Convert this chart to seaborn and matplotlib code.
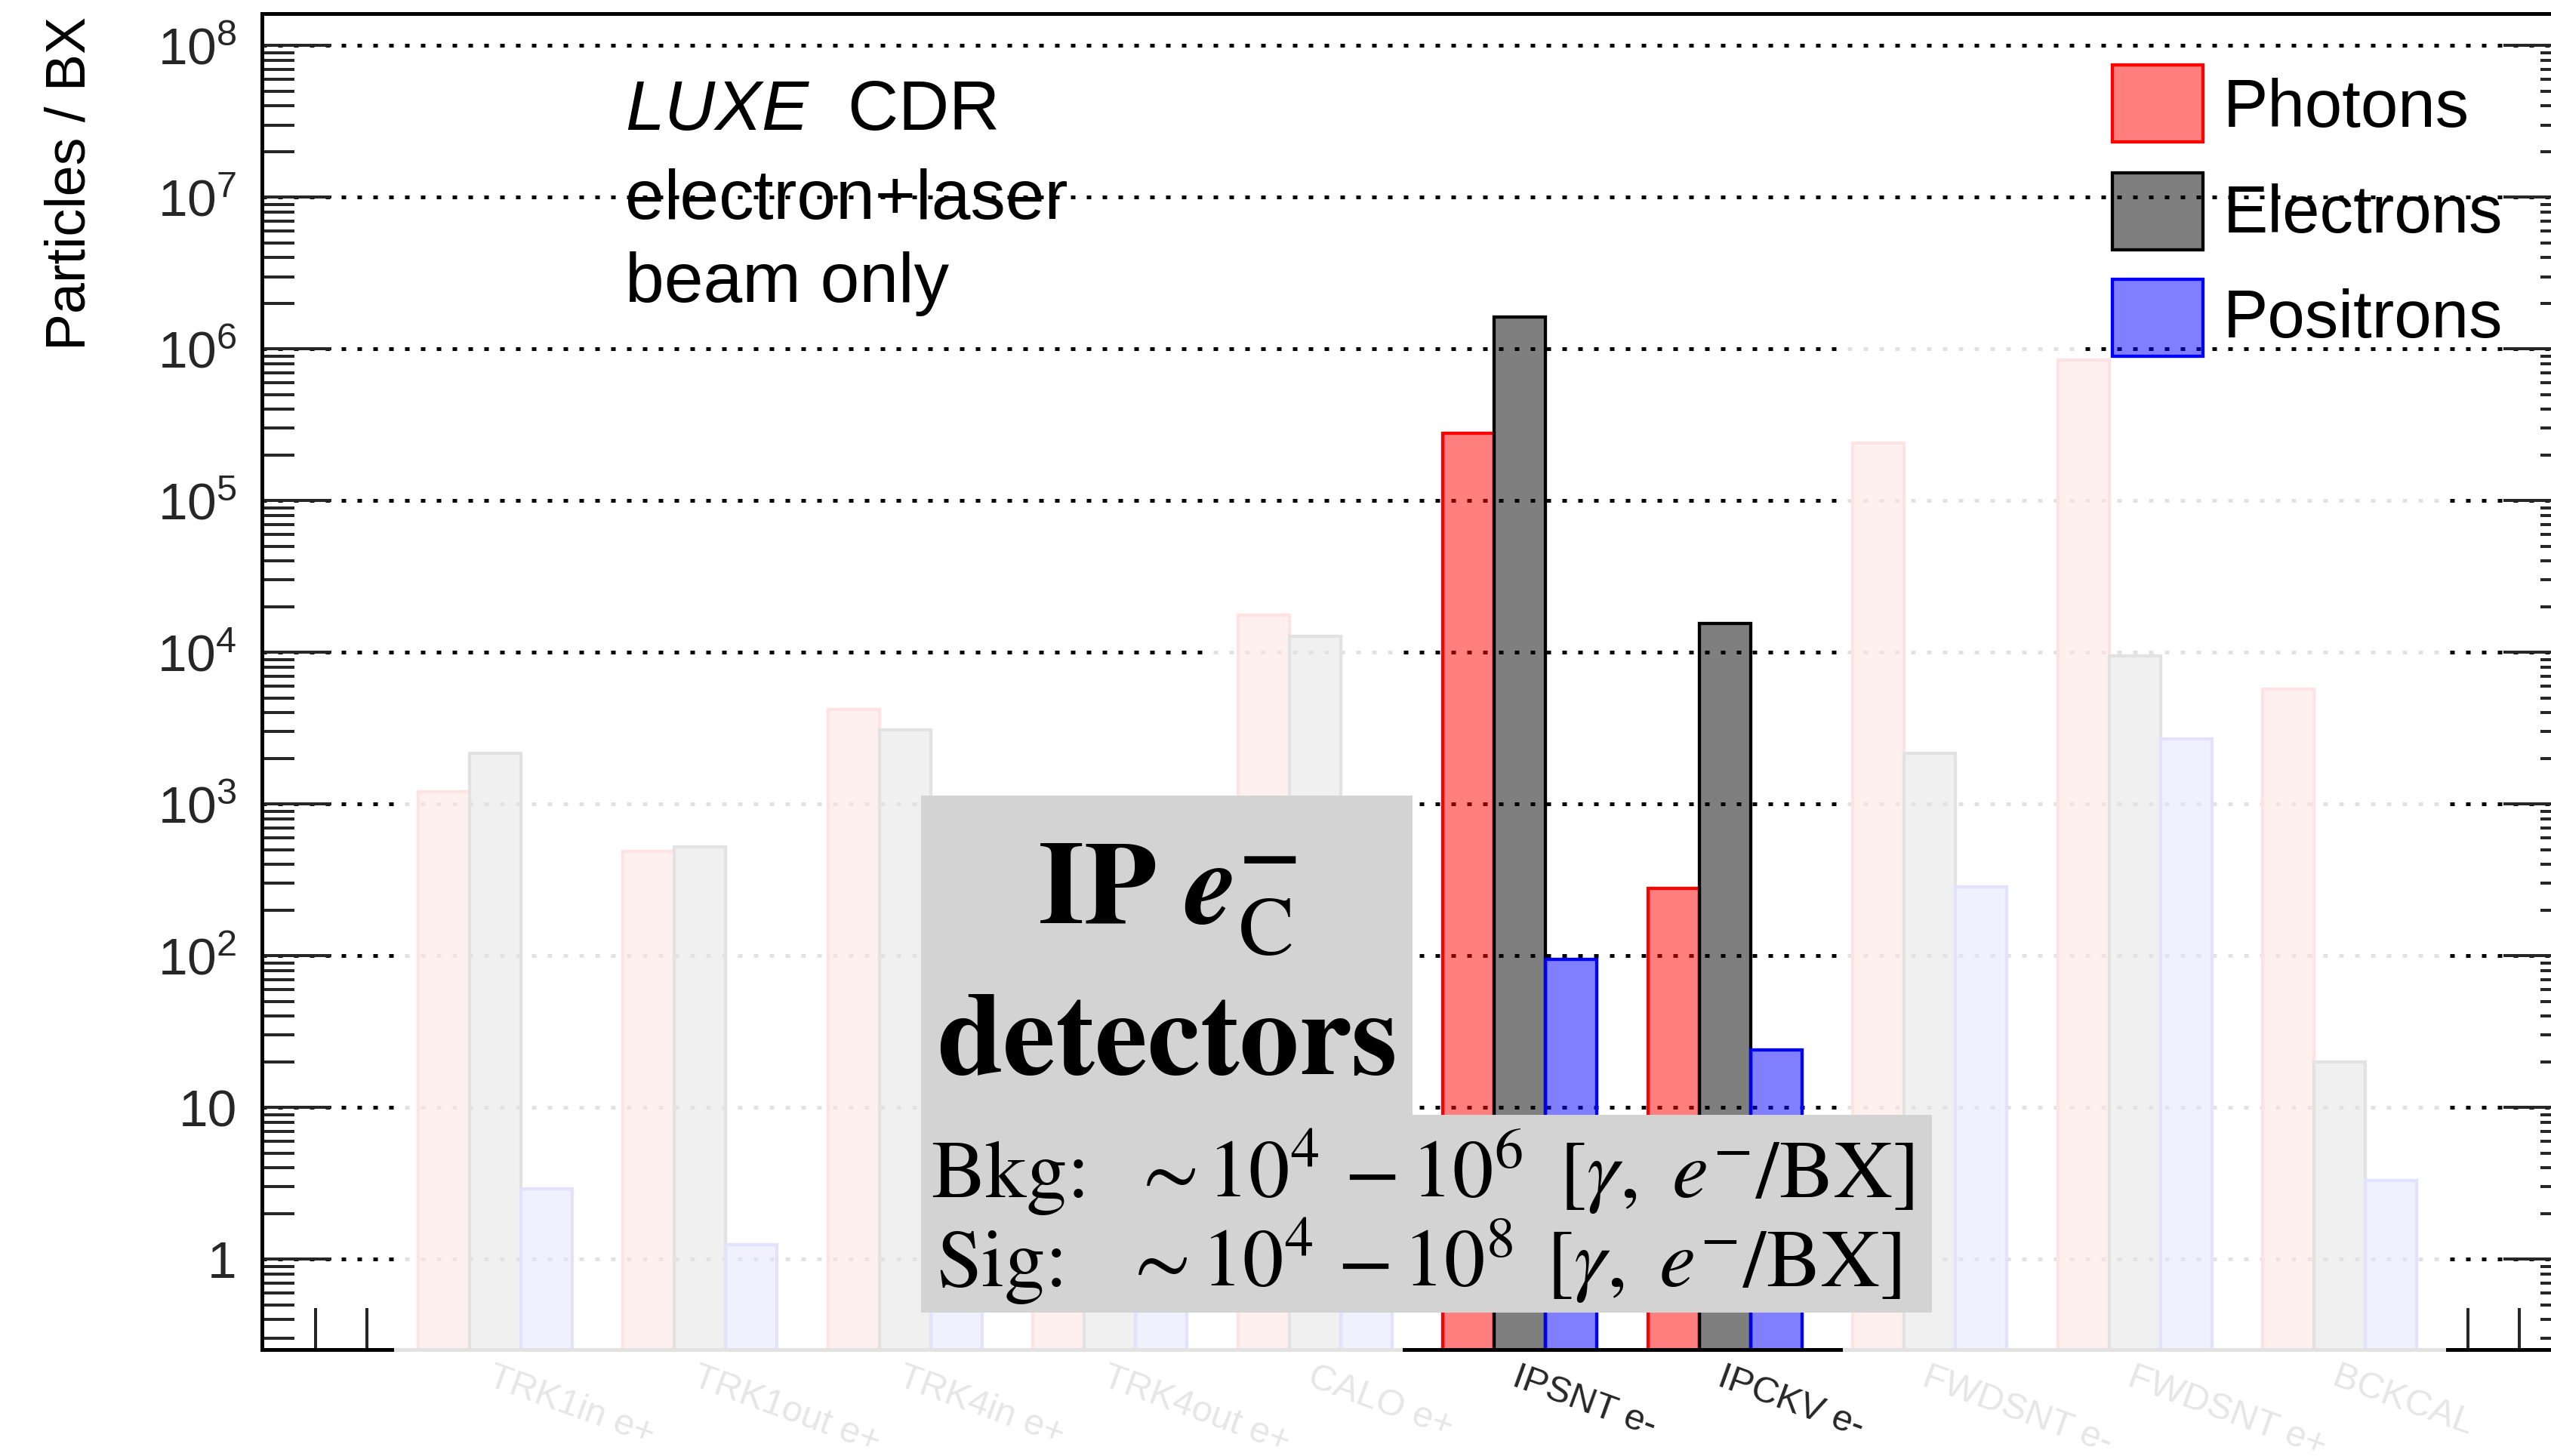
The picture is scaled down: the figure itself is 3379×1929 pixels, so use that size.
import numpy as np
import pandas as pd
import matplotlib
matplotlib.use("Agg")
import matplotlib.pyplot as plt
from matplotlib.patches import Rectangle, Polygon
from matplotlib.colors import to_rgba
from matplotlib.ticker import FixedLocator, LogLocator, NullFormatter
import seaborn as sns

# ---- data -------------------------------------------------------------
detectors = ["TRK1in e+", "TRK1out e+", "TRK4in e+", "TRK4out e+", "CALO e+",
             "IPSNT e-", "IPCKV e-", "FWDSNT e-", "FWDSNT e+", "BCKCAL"]
particles = ["Photons", "Electrons", "Positrons"]
photons = [1200, 490, 4200, 400, 17600, 2.8e5, 280, 2.4e5, 8.5e5, 5700]
electrons = [2160, 520, 3100, 450, 12800, 1.62e6, 15600, 2160, 9500, 20]
positrons = [2.9, 1.25, 2.0, 1.5, 6.0, 95, 24, 286, 2700, 3.3]
particle_colors = ["#ff0000", "#000000", "#0000ff"]

y_ticks = [1, 10, 1e2, 1e3, 1e4, 1e5, 1e6, 1e7, 1e8]
y_tick_labels = ["1", "10"] + [r"$\mathregular{10^{%d}}$" % k for k in range(2, 9)]

# ---- style ------------------------------------------------------------
sns.set_style("ticks")
plt.rcParams["font.family"] = ["Liberation Sans", "DejaVu Sans"]
plt.rcParams["mathtext.fontset"] = "custom"
plt.rcParams["mathtext.rm"] = "Liberation Sans"
plt.rcParams["mathtext.it"] = "Liberation Sans:italic"
plt.rcParams["mathtext.bf"] = "Liberation Sans:bold"
plt.rcParams["text.color"] = "black"

W, H, DPI = 3380, 1929, 100
PT = 72.0 / DPI  # points per pixel


def fx(px):
    return px / W


def fy(py):
    return 1.0 - py / H


fig = plt.figure(figsize=(W / DPI, H / DPI), dpi=DPI)
fig.patch.set_facecolor("white")
ax = fig.add_axes([fx(347), fy(1788), (3408 - 347) / W, (1788 - 18.3) / H])
ax.set_yscale("log")

df = pd.DataFrame({
    "detector": detectors * 3,
    "particle": [p for p in particles for _ in detectors],
    "count": photons + electrons + positrons,
})

sns.barplot(data=df, x="detector", y="count", hue="particle",
            order=detectors, hue_order=particles, palette=particle_colors,
            saturation=1, width=0.75, errorbar=None, legend=False, ax=ax)

for cont, col in zip(ax.containers, particle_colors):
    for bar in cont:
        bar.set_facecolor(to_rgba(col, 0.5))
        bar.set_edgecolor(col)
        bar.set_linewidth(4.3 * PT)
        bar.set_zorder(2)

# ---- axes -------------------------------------------------------------
ax.set_xlim(-1.137, 10.137)
ax.set_ylim(0.254, 1.62e8)
ax.set_xlabel("")
ax.set_ylabel("")

ax.set_yticks(y_ticks, labels=y_tick_labels)
ax.yaxis.set_minor_locator(LogLocator(base=10, subs=np.arange(2, 10), numticks=100))
ax.yaxis.set_minor_formatter(NullFormatter())
ax.tick_params(axis="y", which="major", direction="in", length=92 * PT,
               width=4 * PT, left=True, right=True, labelsize=50, pad=24)
ax.tick_params(axis="y", which="minor", direction="in", length=43 * PT,
               width=4 * PT, left=True, right=True)

ax.set_xticks(range(len(detectors)), labels=detectors, rotation=-20,
              ha="left", va="top", rotation_mode="anchor", fontsize=35)
ax.xaxis.set_minor_locator(FixedLocator([-0.875 + 0.25 * k for k in range(44)]))
ax.tick_params(axis="x", which="major", length=0, pad=10, top=False)
ax.tick_params(axis="x", which="minor", direction="in", length=55 * PT,
               width=4 * PT, bottom=True, top=False)

for sp in ax.spines.values():
    sp.set_linewidth(5 * PT)
    sp.set_color("black")
    sp.set_visible(True)

ax.set_axisbelow(True)
ax.grid(False)
ax.yaxis.grid(True, which="major", color="black", linestyle=(0, (1.2, 3.0)),
              linewidth=3.6)

# ---- washed-out overlay on the detectors outside the IP region -------
fade_boxes = [
    (522, 905, 1598, 1929),
    (1598, 790, 1858, 1800),
    (1598, 1800, 1995, 1929),
    (2441, 400, 2757, 1800),
    (2757, 470, 3240, 1800),
    (2490, 1800, 3330, 1929),
]
for x0, y0, x1, y1 in fade_boxes:
    ax.add_patch(Rectangle((fx(x0), fy(y1)), (x1 - x0) / W, (y1 - y0) / H,
                           transform=fig.transFigure, facecolor="white",
                           edgecolor="none", alpha=0.89, clip_on=False,
                           zorder=10))

# ---- titles and annotations ------------------------------------------
fig.text(fx(93), fy(22), "Particles / BX", rotation=90, ha="center",
         va="top", fontsize=53)

fig.text(fx(828), fy(172), r"$\mathit{LUXE}$  CDR", fontsize=67, va="baseline")
fig.text(fx(828), fy(290), "electron+laser", fontsize=67, va="baseline")
fig.text(fx(828), fy(400), "beam only", fontsize=67, va="baseline")

# legend
for name, col, top, base in zip(particles, particle_colors,
                                [86, 229, 370], [168, 308, 447]):
    fig.add_artist(Rectangle((fx(2798), fy(top + 102)), 120 / W, 102 / H,
                             transform=fig.transFigure,
                             facecolor=to_rgba(col, 0.5), edgecolor=col,
                             linewidth=4.3 * PT, zorder=5))
    fig.text(fx(2945), fy(base), name, fontsize=64, va="baseline", zorder=6)

# IP e-C detectors box
box_px = [(1220, 1054), (1871, 1054), (1871, 1477), (2559, 1477),
          (2559, 1739), (1220, 1739)]
fig.add_artist(Polygon([(fx(x), fy(y)) for x, y in box_px], closed=True,
                       transform=fig.transFigure, facecolor="#d3d3d3",
                       edgecolor="none", zorder=5))
fig.text(fx(1546), fy(1224),
         r"$\mathbf{IP}\ \boldsymbol{e}_{\mathrm{C}}^{\mathbf{-}}$",
         math_fontfamily="stix", fontsize=113, ha="center", va="baseline",
         zorder=6)
fig.text(fx(1546), fy(1423), "detectors", fontfamily="STIXGeneral",
         fontweight="bold", fontsize=113, ha="center", va="baseline", zorder=6)

# rate ranges, set piece by piece on the two lines
serif_pt = 78
rate_lines = [
    (1586, [(1233, "Bkg:", False), (1498, r"$\sim$", True),
            (1599, r"$10^{4}$", True), (1780, r"$-$", True),
            (1869, r"$10^{6}$", True),
            (2065, r"$[\gamma,\ e^{-}/\mathrm{BX}]$", True)]),
    (1704, [(1240, "Sig:", False), (1487, r"$\sim$", True),
            (1591, r"$10^{4}$", True), (1771, r"$-$", True),
            (1858, r"$10^{8}$", True),
            (2048, r"$[\gamma,\ e^{-}/\mathrm{BX}]$", True)]),
]
for base, pieces in rate_lines:
    for xpos, s, is_math in pieces:
        if is_math:
            fig.text(fx(xpos), fy(base), s, math_fontfamily="stix",
                     fontsize=serif_pt, va="baseline", zorder=6)
        else:
            fig.text(fx(xpos), fy(base), s, fontfamily="STIXGeneral",
                     fontsize=serif_pt, va="baseline", zorder=6)

fig.savefig("out.png", dpi=DPI)
